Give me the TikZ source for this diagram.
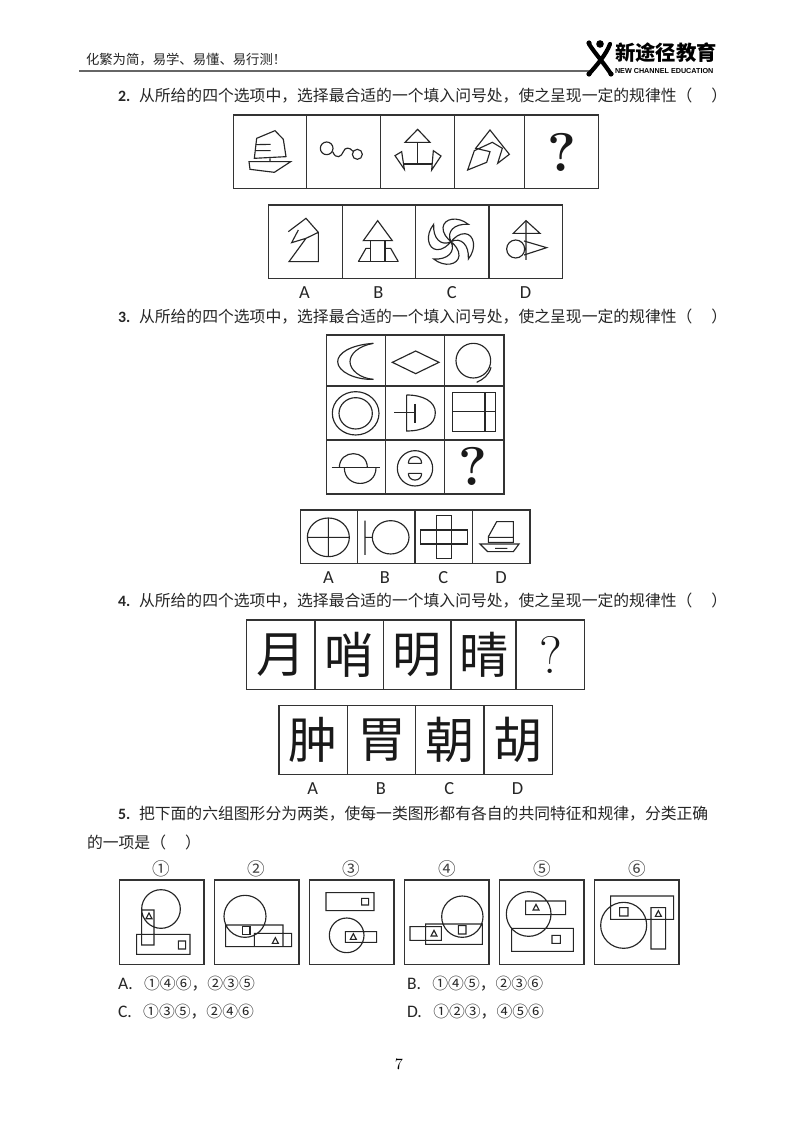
\documentclass[tikz,border=0pt]{standalone}
\usepackage{fontspec}
\newfontfamily\cjk{Noto Sans CJK SC}
\newfontfamily\latin{Carlito}
\newfontfamily\logofont{Liberation Sans}
\newcommand{\qnum}[1]{{\latin\bfseries #1.}\hspace{5pt}}
\begin{document}
\begin{tikzpicture}[x=0.02cm, y=-0.02cm,
	%Styles of the page
	inner sep=0pt, outer sep=0pt,
	boxline/.style={black!80, line width=0.7pt},
	figline/.style={black!85, line width=0.65pt},
	qtext/.style={anchor=west, text=black!85, font=\fontsize{9pt}{11pt}\selectfont\cjk},
	optlabel/.style={text=black!85, font=\fontsize{10.5pt}{12pt}\selectfont\latin},
	bigchar/.style={text=black!90, font=\fontsize{28pt}{30pt}\selectfont\cjk},
	qmark/.style={text=black!90, font=\fontsize{31pt}{33pt}\selectfont\bfseries},
	circnum/.style={text=black!75, font=\fontsize{10pt}{12pt}\selectfont\cjk},
	smalltri/.pic={\draw[figline] (-3,2.7) -- (0,-3) -- (3,2.7) -- cycle;},
	]
	\useasboundingbox[fill=white] (0,0) rectangle (800,1124);
	
	%Header
	\node[qtext, font=\fontsize{7.6pt}{9pt}\selectfont\cjk] (motto) at (86,60) {化繁为简，易学、易懂、易行测！};
	\draw[black!60, line width=0.6pt] (79,71) -- (590,71);
	\draw[black, line width=2.4pt, line cap=round] (589,44) .. controls (594,52) and (603,62) .. (611,74)
	(610,44) .. controls (606,55) and (596,66) .. (589,74);
	\fill[black] (600,44) circle (3.8) (589,43) circle (2.6) (589,74) circle (2.6) (611,74) circle (2.6);
	\node[anchor=west, font=\fontsize{11.6pt}{13pt}\selectfont\cjk\bfseries] (logoname) at (615,53) {新途径教育};
	\node[anchor=west, font=\fontsize{4.1pt}{5pt}\selectfont\logofont\bfseries] (logoline) at (615,71) {NEW CHANNEL EDUCATION};
	
	%Question 2
	\node[qtext] (qtwo) at (118,96) {\qnum{2}从所给的四个选项中，选择最合适的一个填入问号处，使之呈现一定的规律性（\hspace{1.2em}）};
	\begin{scope}[shift={(225,110)}, scale=1/3]
	\draw[boxline, line width=0.9pt] (25,15) rectangle (1120,235);
	\foreach \x in {245,466,688,898}
	\draw[boxline] (\x,15) -- (\x,235);
	% sail
	\draw[figline] (95,85) -- (150,62) -- (175,88) -- (183,140) -- (88,145) -- cycle;
	\draw[figline] (92,104) -- (137,103) (90,122) -- (137,122) (135,145) -- (135,155);
	\draw[figline] (72,155) -- (197,155) -- (148,187) -- (75,178) -- cycle;
	% circles and wave
	\draw[figline] (305,115) circle (19) (397,133) circle (15);
	\draw[figline] (323,125) .. controls (333,150) and (350,140) .. (355,125) .. controls (360,110) and (375,112) .. (384,124);
	% flags
	\draw[figline] (578,58) -- (540,97) -- (615,97) -- cycle;
	\draw[figline] (578,97) -- (578,162) (538,162) -- (620,162);
	\draw[figline] (530,125) -- (510,137) -- (538,178) -- cycle;
	\draw[figline] (625,122) -- (648,138) -- (620,180) -- cycle;
	% broken shape
	\draw[figline] (752,115) -- (795,60) -- (853,133) -- (818,160) -- (832,115) -- (802,97) -- (748,122) -- (728,180) -- (785,157) -- (795,125) -- cycle;
	\node[qmark] (qmarktwo) at (1012,127) {?};
	
	\draw[boxline] (130,285) rectangle (1013,505);
	\foreach \x in {352,572,792}
	\draw[boxline] (\x,285) -- (\x,505);
	% A
	\draw[figline] (190,365) -- (243,325) -- (280,367) -- (280,455) -- (192,455) -- (243,385) -- (200,398) -- (220,360)
	(243,385) -- (278,368);
	% B
	\draw[figline] (458,332) -- (415,392) -- (502,392) -- cycle;
	\draw[figline] (437,392) -- (437,455) (480,392) -- (480,455) (400,455) -- (520,455);
	\draw[figline] (400,455) -- (423,415) -- (437,415) (480,415) -- (497,415) -- (520,455);
	% C
	\foreach \a in {0,90,...,270}{
		\begin{scope}[shift={(678,395)}, rotate=\a]
		\draw[figline] (0,0) .. controls (-15,-30) and (10,-55) .. (52,-52) .. controls (20,-78) and (-22,-70) .. (-24,-42) .. controls (-25,-25) and (-12,-10) .. (0,0);
		\end{scope}
	}
	% D
	\draw[figline] (903,332) -- (865,370) -- (945,370) -- cycle;
	\draw[figline] (903,332) -- (903,450) (872,417) circle (27);
	\draw[figline] (897,393) -- (965,413) -- (897,435);
	\node[optlabel] (atwo) at (238,548) {A};
	\node[optlabel] (btwo) at (460,548) {B};
	\node[optlabel] (ctwo) at (680,548) {C};
	\node[optlabel] (dtwo) at (902,548) {D};
	\end{scope}
	
	%Question 3
	\node[qtext] (qthree) at (118,317) {\qnum{3}从所给的四个选项中，选择最合适的一个填入问号处，使之呈现一定的规律性（\hspace{1.2em}）};
	\begin{scope}[shift={(295,330)}, scale=1/3]
	\draw[boxline] (95,15) rectangle (627,492);
	\foreach \x in {272,449}
	\draw[boxline] (\x,15) -- (\x,492);
	\foreach \y in {168,330}
	\draw[boxline] (95,\y) -- (627,\y);
	% first row
	\draw[figline] (235,40) .. controls (165,45) and (128,70) .. (128,95) .. controls (128,125) and (180,150) .. (235,148);
	\draw[figline] (235,40) .. controls (190,48) and (165,72) .. (165,95) .. controls (165,120) and (195,145) .. (235,148);
	\draw[figline] (362,63) -- (432,97) -- (362,131) -- (292,97) -- cycle;
	\draw[figline] (535,92) circle (52);
	\draw[figline] (588,112) .. controls (582,135) and (565,148) .. (545,157);
	% second row
	\draw[figline] (182,250) ellipse (70 and 65) (182,250) ellipse (50 and 47);
	\draw[figline] (335,195) -- (335,303) .. controls (385,303) and (421,285) .. (421,248) .. controls (421,215) and (385,195) .. (335,195);
	\draw[figline] (298,248) -- (360,248) (360,222) -- (360,278);
	\draw[figline] (473,188) rectangle (602,305);
	\draw[figline] (570,188) -- (570,305) (473,245) -- (602,245);
	% third row
	\draw[figline] (110,413) -- (255,413);
	\draw[figline] (133,413) .. controls (133,357) and (217,357) .. (217,413);
	\draw[figline] (148,413) .. controls (148,476) and (243,476) .. (243,413);
	\draw[figline] (360,415) circle (53);
	\draw[figline] (340,400) -- (380,400) (340,400) .. controls (340,373) and (380,373) .. (380,400);
	\draw[figline] (340,430) -- (380,430) (340,430) .. controls (340,457) and (380,457) .. (380,430);
	\node[qmark] (qmarkthree) at (533,410) {?};
	
	\draw[boxline] (17,540) rectangle (705,700);
	\foreach \x in {188,360,533}
	\draw[boxline] (\x,540) -- (\x,700);
	% A
	\draw[figline] (100,622) ellipse (63 and 58) (37,622) -- (163,622) (100,564) -- (100,680);
	% B
	\draw[figline] (210,572) -- (210,675) (210,622) -- (232,622) (287,622) ellipse (55 and 50);
	% C
	\draw[figline] (425,557) rectangle (470,685) (377,600) rectangle (518,642);
	% D
	\draw[figline] (580,620) -- (605,575) -- (655,575) -- (655,637) -- (580,637) -- cycle (580,622) -- (655,622);
	\draw[figline] (555,642) -- (672,642) -- (655,665) -- (578,665) -- cycle (600,655) -- (637,655);
	\node[optlabel] (athree) at (100,742) {A};
	\node[optlabel] (bthree) at (270,742) {B};
	\node[optlabel] (cthree) at (445,742) {C};
	\node[optlabel] (dthree) at (618,742) {D};
	\end{scope}
	
	%Question 4
	\node[qtext] (qfour) at (118,601) {\qnum{4}从所给的四个选项中，选择最合适的一个填入问号处，使之呈现一定的规律性（\hspace{1.2em}）};
	\begin{scope}[shift={(240,610)}, scale=1/3]
	\draw[boxline] (20,30) rectangle (1033,238);
	\foreach \x in {225,430,633,828}
	\draw[boxline] (\x,30) -- (\x,238);
	\node[bigchar] (yue) at (122,135) {月};
	\node[bigchar] (shao) at (328,135) {哨};
	\node[bigchar] (ming) at (532,135) {明};
	\node[bigchar] (qing) at (732,135) {晴};
	\node[qmark, font=\fontsize{30pt}{32pt}\selectfont] (qmarkfour) at (933,135) {?};
	
	\draw[boxline] (117,287) rectangle (937,493);
	\foreach \x in {322,527,732}
	\draw[boxline] (\x,287) -- (\x,493);
	\node[bigchar] (zhong) at (220,390) {肿};
	\node[bigchar] (wei) at (425,390) {胃};
	\node[bigchar] (chao) at (630,390) {朝};
	\node[bigchar] (hu) at (835,390) {胡};
	\node[optlabel] (afour) at (218,537) {A};
	\node[optlabel] (bfour) at (423,537) {B};
	\node[optlabel] (cfour) at (628,537) {C};
	\node[optlabel] (dfour) at (833,537) {D};
	\end{scope}
	
	%Question 5
	\node[qtext] (qfive) at (118,814) {\qnum{5}把下面的六组图形分为两类，使每一类图形都有各自的共同特征和规律，分类正确};
	\node[qtext] (qfiveb) at (87,842) {的一项是（\hspace{1.2em}）};
	
	\begin{scope}[shift={(110,855)}, scale=1/3]
	\foreach \x/\n/\c in {28/boxa/①, 313/boxb/②, 598/boxc/③}{
		\draw[boxline] (\x,75) rectangle +(254,253);
		\node[circnum] (\n) at (\x+127,40) {\c};
	}
	% 1
	\draw[figline] (153,162) circle (58) (95,165) rectangle (132,270) (80,238) rectangle (240,298) (205,258) rectangle (227,282);
	\pic at (117,183) {smalltri};
	% 2
	\draw[figline] (405,184) circle (63) (347,210) rectangle (519,275) (433,235) rectangle (545,275);
	\draw[figline, line width=0.8pt] (397,215) rectangle (420,238);
	\pic at (496,257) {smalltri};
	% 3
	\draw[figline] (648,113) rectangle (792,167) (755,130) rectangle (776,150) (710,241) circle (52) (706,230) rectangle (800,262);
	\pic at (730,245) {smalltri};
	\end{scope}
	\begin{scope}[shift={(400,855)}, scale=1/3]
	\foreach \x/\n/\c in {14/boxd/④, 299/boxe/⑤, 584/boxf/⑥}{
		\draw[boxline] (\x,75) rectangle +(253,253);
		\node[circnum] (\n) at (\x+127,40) {\c};
	}
	% 4
	\draw[figline] (187,185) circle (62) (77,207) rectangle (247,268) (30,215) rectangle (124,256) (175,212) rectangle (198,237);
	\pic at (102,235) {smalltri};
	% 5
	\draw[figline] (386,177) circle (67) (377,138) rectangle (497,179) (335,220) rectangle (520,289) (456,241) rectangle (481,265);
	\pic at (408,157) {smalltri};
	% 6
	\draw[figline] (632,123) rectangle (821,193) (671,211) circle (69) (753,158) rectangle (797,282) (659,158) rectangle (684,183);
	\pic at (775,176) {smalltri};
	\end{scope}
	
	%Answers
	\node[qtext] (opta) at (118,984) {{\latin\fontsize{10pt}{11pt}\selectfont A.}\hspace{6.5pt}①④⑥，②③⑤};
	\node[qtext] (optb) at (407,984) {{\latin\fontsize{10pt}{11pt}\selectfont B.}\hspace{6.5pt}①④⑤，②③⑥};
	\node[qtext] (optc) at (118,1012) {{\latin\fontsize{10pt}{11pt}\selectfont C.}\hspace{6.5pt}①③⑤，②④⑥};
	\node[qtext] (optd) at (407,1012) {{\latin\fontsize{10pt}{11pt}\selectfont D.}\hspace{6.5pt}①②③，④⑤⑥};
	
	\node[font=\fontsize{9pt}{11pt}\selectfont] (pagenum) at (399,1064) {7};
\end{tikzpicture}
\end{document}
